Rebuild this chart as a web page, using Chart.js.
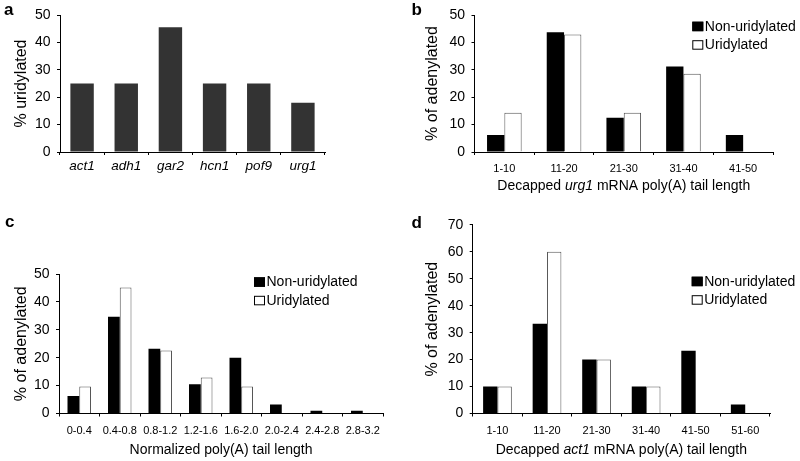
<!DOCTYPE html>
<html>
<head>
<meta charset="utf-8">
<script src="https://cdn.jsdelivr.net/npm/chart.js@4.4.1/dist/chart.umd.min.js"></script>
<style>
  html, body { margin: 0; padding: 0; background: #fff; }
  #fig { position: relative; width: 800px; height: 461px; overflow: hidden; }
  canvas { position: absolute; }
</style>
</head>
<body>
<div id="fig">
  <canvas id="pa" width="400" height="210" style="left:0;top:0"></canvas>
  <canvas id="pb" width="400" height="210" style="left:400px;top:0"></canvas>
  <canvas id="pc" width="400" height="251" style="left:0;top:210px"></canvas>
  <canvas id="pd" width="400" height="251" style="left:400px;top:210px"></canvas>
</div>
<script>
// panel a
const genes = ['act1', 'adh1', 'gar2', 'hcn1', 'pof9', 'urg1'];
const pctUridylated = [25, 25, 45.5, 25, 25, 18];

// panel b - urg1
const urg1Bins = ['1-10', '11-20', '21-30', '31-40', '41-50'];
const urg1NonUridylated = [6.25, 43.75, 12.5, 31.25, 6.25];
const urg1Uridylated = [14.3, 42.9, 14.3, 28.6, 0];

// panel c - normalized
const normBins = ['0-0.4', '0.4-0.8', '0.8-1.2', '1.2-1.6', '1.6-2.0', '2.0-2.4', '2.4-2.8', '2.8-3.2'];
const normNonUridylated = [6.3, 34.7, 23.2, 10.5, 20, 3.2, 1.0, 1.0];
const normUridylated = [9.7, 45.2, 22.6, 12.9, 9.7, 0, 0, 0];

// panel d - act1
const act1Bins = ['1-10', '11-20', '21-30', '31-40', '41-50', '51-60'];
const act1NonUridylated = [10, 33.3, 20, 10, 23.3, 3.3];
const act1Uridylated = [10, 60, 20, 10, 0, 0];

const FONT = "'Liberation Sans', Arial, Helvetica, sans-serif";
Chart.defaults.font.family = FONT;
Chart.defaults.color = '#000';
Chart.defaults.animation = false;

// panel letter, x title (with italic gene name) and the little legend
const panelText = {
  id: 'panelText',
  afterDraw(chart, args, o) {
    const ctx = chart.ctx;
    const area = chart.chartArea;
    ctx.save();
    ctx.fillStyle = '#000';
    ctx.textAlign = 'left';
    ctx.textBaseline = 'alphabetic';
    ctx.font = 'bold 17px ' + FONT;
    ctx.fillText(o.letter, o.letterPos[0], o.letterPos[1]);

    if (o.xTitle) {
      const fonts = o.xTitle.map(p => (p[1] ? 'italic ' : '') + '14px ' + FONT);
      let total = 0;
      const widths = o.xTitle.map((p, i) => {
        ctx.font = fonts[i];
        const w = ctx.measureText(p[0]).width;
        total += w;
        return w;
      });
      let x = (area.left + area.right) / 2 - total / 2;
      ctx.textBaseline = 'middle';
      o.xTitle.forEach((p, i) => {
        ctx.font = fonts[i];
        ctx.fillText(p[0], x, o.xTitleY);
        x += widths[i];
      });
    }

    if (o.legend) {
      const lx = o.legend[0], ly = o.legend[1];
      ctx.font = '14px ' + FONT;
      ctx.textBaseline = 'middle';
      chart.data.datasets.forEach((ds, i) => {
        const y = ly + i * 18.5;
        ctx.fillStyle = ds.backgroundColor;
        ctx.fillRect(lx, y, 11, 9.5);
        ctx.strokeStyle = '#000';
        ctx.lineWidth = 1;
        ctx.strokeRect(lx + 0.5, y + 0.5, 10, 8.5);
        ctx.fillStyle = '#000';
        ctx.fillText(ds.label, lx + 12.5, y + 5);
      });
    }
    ctx.restore();
  }
};

function scales(o) {
  return {
    x: {
      afterFit: s => { s.height = o.xHeight; },
      grid: { drawOnChartArea: false, drawTicks: true, tickLength: 3, color: '#000', offset: true },
      border: { color: '#000', width: 1 },
      ticks: { font: o.xFont, padding: o.xPad, color: '#000', maxRotation: 0, autoSkip: false }
    },
    y: {
      min: 0,
      max: o.yMax,
      afterFit: s => { s.width = o.yWidth; },
      grid: { drawOnChartArea: false, tickLength: 3, color: '#000' },
      border: { color: '#000', width: 1 },
      ticks: { stepSize: 10, font: { size: 14 }, padding: 6.5, color: '#000' },
      title: {
        display: true,
        text: o.yTitle,
        font: { size: 16 },
        color: '#000',
        padding: { top: o.yTitlePad, bottom: 0 }
      }
    }
  };
}

function pairedDatasets(non, uri) {
  return [
    { label: 'Non-uridylated', data: non, backgroundColor: '#000', borderWidth: 0,
      categoryPercentage: 0.58, barPercentage: 1 },
    { label: 'Uridylated', data: uri, backgroundColor: '#fff', borderColor: '#555', borderWidth: 1,
      categoryPercentage: 0.58, barPercentage: 1 }
  ];
}

new Chart(document.getElementById('pa'), {
  type: 'bar',
  data: {
    labels: genes,
    datasets: [{ label: '% uridylated', data: pctUridylated, backgroundColor: '#333',
      categoryPercentage: 0.53, barPercentage: 1 }]
  },
  options: {
    responsive: false,
    layout: { padding: { left: 0, right: 75, top: 15, bottom: 0 } },
    scales: scales({ xHeight: 58, xFont: { size: 13.5, style: 'italic' }, xPad: 3.6,
      yMax: 50, yWidth: 60, yTitle: '% uridylated', yTitlePad: 12.4 }),
    plugins: {
      legend: { display: false },
      tooltip: { enabled: false },
      panelText: { letter: 'a', letterPos: [4, 15] }
    }
  },
  plugins: [panelText]
});

new Chart(document.getElementById('pb'), {
  type: 'bar',
  data: { labels: urg1Bins, datasets: pairedDatasets(urg1NonUridylated, urg1Uridylated) },
  options: {
    responsive: false,
    layout: { padding: { left: 0, right: 27, top: 15, bottom: 0 } },
    scales: scales({ xHeight: 58, xFont: { size: 11 }, xPad: 7.7,
      yMax: 50, yWidth: 74.5, yTitle: '% of adenylated', yTitlePad: 23.4 }),
    plugins: {
      legend: { display: false },
      tooltip: { enabled: false },
      panelText: {
        letter: 'b', letterPos: [11.5, 15],
        xTitle: [['Decapped ', false], ['urg1', true], [' mRNA poly(A) tail length', false]],
        xTitleY: 186,
        legend: [292.3, 21.7]
      }
    }
  },
  plugins: [panelText]
});

new Chart(document.getElementById('pc'), {
  type: 'bar',
  data: { labels: normBins, datasets: pairedDatasets(normNonUridylated, normUridylated) },
  options: {
    responsive: false,
    layout: { padding: { left: 0, right: 17, top: 64, bottom: 0 } },
    scales: scales({ xHeight: 47.5, xFont: { size: 11 }, xPad: 7.6,
      yMax: 50, yWidth: 59, yTitle: '% of adenylated', yTitlePad: 12.4 }),
    plugins: {
      legend: { display: false },
      tooltip: { enabled: false },
      panelText: {
        letter: 'c', letterPos: [5, 17],
        xTitle: [['Normalized poly(A) tail length', false]],
        xTitleY: 240,
        legend: [254, 67.3]
      }
    }
  },
  plugins: [panelText]
});

new Chart(document.getElementById('pd'), {
  type: 'bar',
  data: { labels: act1Bins, datasets: pairedDatasets(act1NonUridylated, act1Uridylated) },
  options: {
    responsive: false,
    layout: { padding: { left: 0, right: 30, top: 10, bottom: 0 } },
    scales: scales({ xHeight: 47.5, xFont: { size: 11 }, xPad: 7.6,
      yMax: 70, yWidth: 72.7, yTitle: '% of adenylated', yTitlePad: 23.4 }),
    plugins: {
      legend: { display: false },
      tooltip: { enabled: false },
      panelText: {
        letter: 'd', letterPos: [11.5, 17.5],
        xTitle: [['Decapped ', false], ['act1', true], [' mRNA poly(A) tail length', false]],
        xTitleY: 240,
        legend: [291.7, 66.7]
      }
    }
  },
  plugins: [panelText]
});
</script>
</body>
</html>
